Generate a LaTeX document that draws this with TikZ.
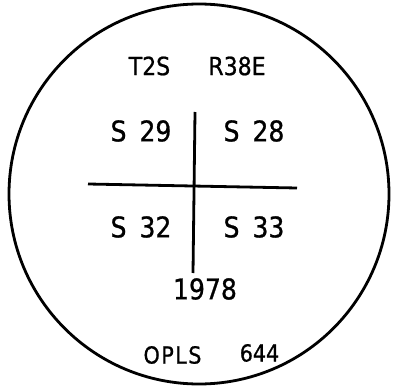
\documentclass[tikz,border=0pt]{standalone}
\usepackage{fontspec}
\setmainfont[FakeStretch=0.88, FakeBold=0.8]{DejaVu Sans}
\usetikzlibrary{positioning,calc}

\newcommand{\gap}{\hspace{13pt}}

\begin{document}
\begin{tikzpicture}[x=1pt, y=-1pt, line width=2.8pt,
  lbl/.style={inner sep=0pt, font=\fontsize{28.5}{32}\selectfont},
  hdr/.style={lbl, font=\fontsize{25}{28}\selectfont},
  foot/.style={lbl, font=\fontsize{23.5}{26}\selectfont},
]
\useasboundingbox (0,0) rectangle (398,390);

% ---------------- stamp outline ----------------
\node[draw, circle, line width=2.8pt, minimum size=380pt, inner sep=0pt] (ring) at (199,194) {};

% ---------------- header ----------------
\node[hdr] (twp) at (149.5,66) {T2S};
\node[hdr] (rng) at (237,66)   {R38E};

% ---------------- sections ----------------
\coordinate (vtop) at (195,112);
\coordinate (vbot) at (193,273);
\coordinate (hl)   at (88,184);
\coordinate (hr)   at (297,188);
\draw (vtop) -- (vbot);
\draw (hl) -- (hr);
\node[lbl] (s29) at (141,131)   {S\gap 29};
\node[lbl] (s28) at (254,131)   {S\gap 28};
\node[lbl] (s32) at (141,227)   {S\gap 32};
\node[lbl] (s33) at (254,227)   {S\gap 33};

% ---------------- year and code ----------------
\node[lbl] (year) at (205,289) {1978};
\node[foot] (opls) at (172.5,355) {O\kern1.5pt P\kern1.5pt L\kern1.5pt S};
\node[foot] (num) at (259.5,353) {644};
\end{tikzpicture}
\end{document}
